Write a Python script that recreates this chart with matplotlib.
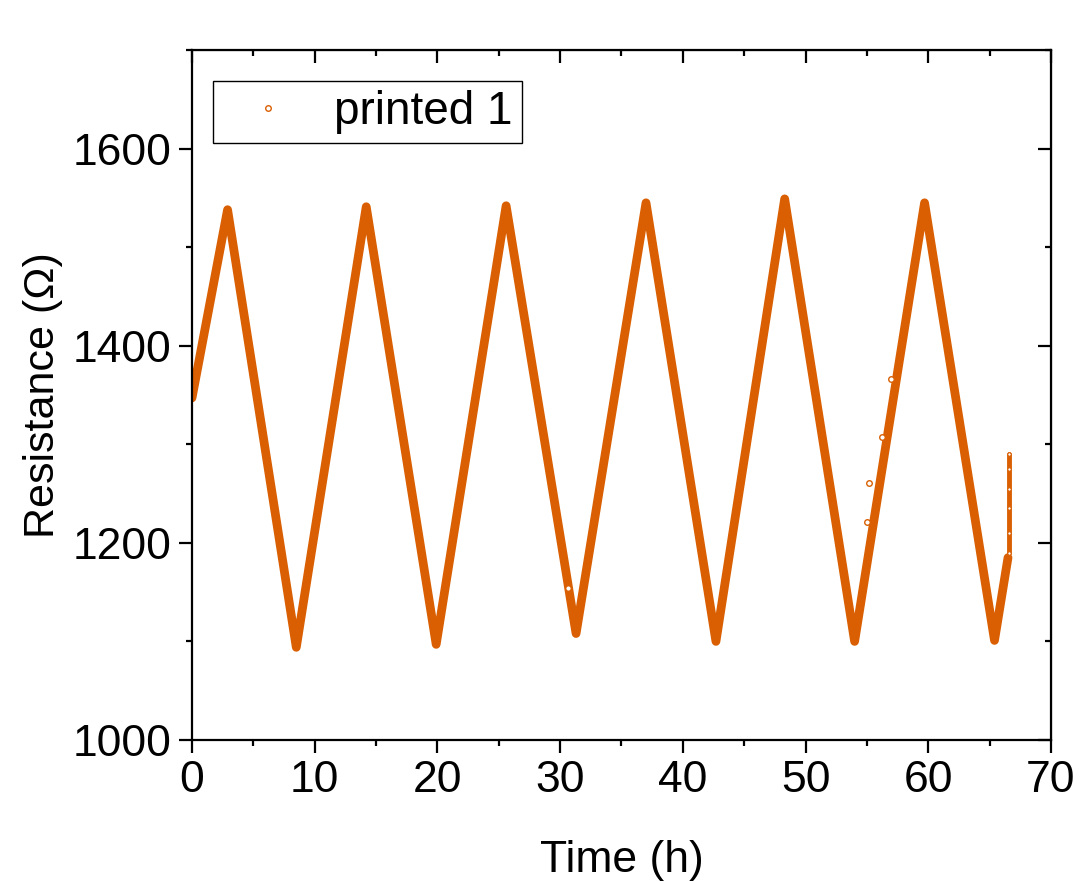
import matplotlib.pyplot as plt
from matplotlib.ticker import MultipleLocator
import numpy as np

# turning points of the resistance trace (h, ohm)
time_h = [0.0, 2.9, 8.5, 14.2, 19.9, 25.6, 31.3, 37.0, 42.7, 48.3, 54.0, 59.7, 65.4, 66.5]
resistance = [1347, 1538, 1094, 1541, 1097, 1542, 1108, 1545, 1100, 1549, 1100, 1545, 1101, 1185]

# stray points off the main trace
stray_t = [30.65, 55.0, 55.2, 56.2, 57.0]
stray_r = [1154, 1221, 1261, 1307, 1366]

# final scatter at the end of the run
end_t = [66.6, 66.6, 66.6, 66.6, 66.6, 66.6]
end_r = [1190, 1210, 1235, 1255, 1275, 1290]

color = '#d95f02'

plt.rcParams['font.family'] = ['Liberation Sans', 'DejaVu Sans']
plt.rcParams['font.size'] = 32

fig = plt.figure(figsize=(10.81, 8.82), dpi=100)
ax = fig.add_axes([0.1776, 0.161, 0.7946, 0.7823])

ax.plot(time_h, resistance, color=color, lw=6.3, solid_joinstyle='round',
		solid_capstyle='round', zorder=2)
ax.plot(end_t, end_r, color=color, lw=3.5, solid_capstyle='round', zorder=2)
ax.plot(end_t, end_r, 'o', color=color, mfc='white', ms=2.5, mew=0.8, zorder=3)
ax.plot(stray_t, stray_r, 'o', color=color, mfc='white', ms=4, mew=1,
		zorder=3, label='printed 1')

ax.set_xlim(0, 70)
ax.set_ylim(1000, 1700)
ax.xaxis.set_major_locator(MultipleLocator(10))
ax.xaxis.set_minor_locator(MultipleLocator(5))
ax.yaxis.set_major_locator(MultipleLocator(200))
ax.yaxis.set_minor_locator(MultipleLocator(100))
ax.set_yticks([1000, 1200, 1400, 1600])

for s in ax.spines.values():
	s.set_linewidth(1.6)

ax.tick_params(which='major', direction='out', length=9.5, width=1.6, pad=5)
ax.tick_params(which='minor', direction='out', length=4.5, width=1.6)

# inward ticks on the top and right frame
top = ax.secondary_xaxis('top')
top.xaxis.set_major_locator(MultipleLocator(10))
top.xaxis.set_minor_locator(MultipleLocator(5))
top.tick_params(which='major', direction='in', length=9.5, width=1.6, labeltop=False)
top.tick_params(which='minor', direction='in', length=4.5, width=1.6)
right = ax.secondary_yaxis('right')
right.yaxis.set_major_locator(MultipleLocator(200))
right.yaxis.set_minor_locator(MultipleLocator(100))
right.tick_params(which='major', direction='in', length=9.5, width=1.6, labelright=False)
right.tick_params(which='minor', direction='in', length=4.5, width=1.6)

ax.set_xlabel('Time (h)', labelpad=28)
ax.set_ylabel('Resistance (Ω)', labelpad=7, fontsize=31)

leg = ax.legend(loc='upper left', bbox_to_anchor=(0.024, 0.955), borderaxespad=0,
				fancybox=False, edgecolor='black', framealpha=1, handlelength=2.0,
				handletextpad=0.45, borderpad=0.2, fontsize=33)
leg.get_frame().set_linewidth(1.0)

fig.savefig('out.png', dpi=100)
